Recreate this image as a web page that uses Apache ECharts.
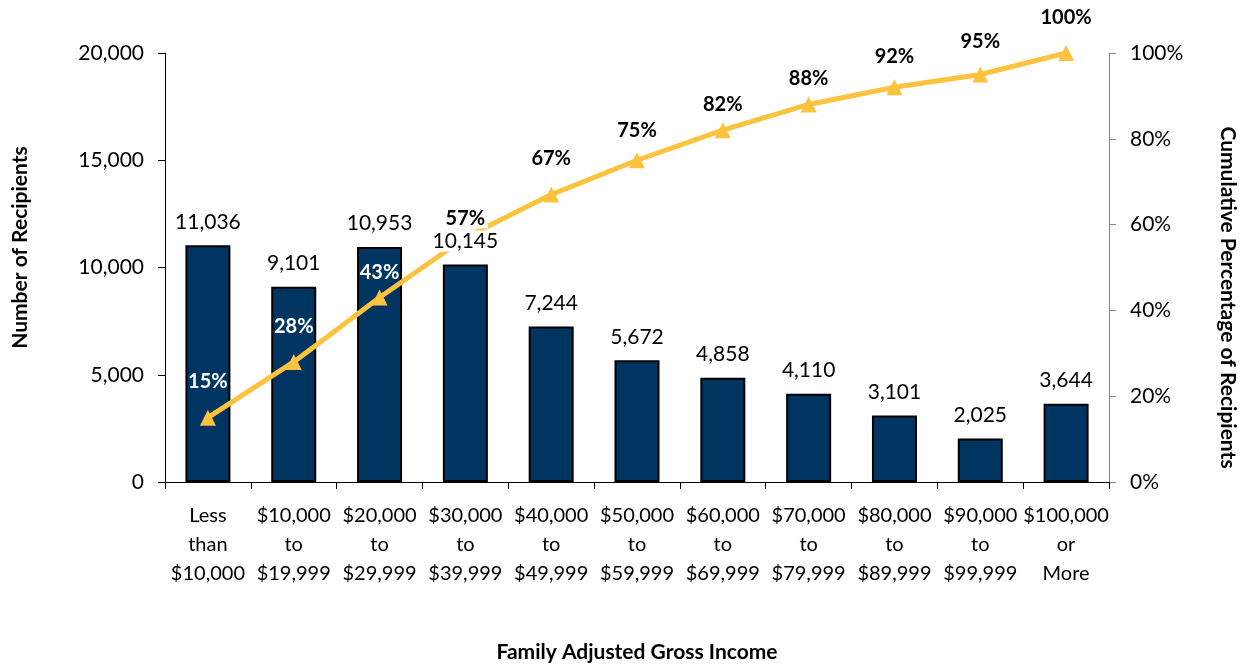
<!DOCTYPE html>
<html lang="en">
<head>
<meta charset="UTF-8">
<title>Recipients by Family AGI</title>
<script src="https://cdn.jsdelivr.net/npm/echarts@6/dist/echarts.min.js"></script>
<style>
  html, body { margin: 0; padding: 0; background: #fff; }
  #main { width: 1248px; height: 668px; }
</style>
</head>
<body>
<div id="main"></div>
<script>
// categories along the x axis
var incomeBands = ['Less than $10,000', '$10,000 to $19,999', '$20,000 to $29,999',
  '$30,000 to $39,999', '$40,000 to $49,999', '$50,000 to $59,999', '$60,000 to $69,999',
  '$70,000 to $79,999', '$80,000 to $89,999', '$90,000 to $99,999', '$100,000 or More'];
// number of recipients per band
var recipients = [11036, 9101, 10953, 10145, 7244, 5672, 4858, 4110, 3101, 2025, 3644];
// cumulative share, in percent
var cumulativePct = [15, 28, 43, 57, 67, 75, 82, 88, 92, 95, 100];
// axis ticks
var leftTicks = { min: 0, max: 20000, step: 5000 };
var rightTicks = { min: 0, max: 100, step: 20 };

// gap between a point and its % label (looks hand placed in the original)
var pctLabelGap = [18, 17, 7, 1, 18, 12, 8, 8, 13, 15, 17];

var navy = '#003562';
var gold = '#FDC23E';
var font = 'Lato, "Noto Sans", sans-serif';

var myChart = echarts.init(document.getElementById('main'));

var option = {
    animation: false,
    textStyle: { fontFamily: font },
    grid: { left: 165, right: 139, top: 53, bottom: 186, containLabel: false },
    xAxis: {
        type: 'category',
        data: incomeBands,
        name: 'Family Adjusted Gross Income',
        nameLocation: 'middle',
        nameGap: 160,
        nameTextStyle: { fontFamily: font, fontWeight: 'bold', fontSize: 21, color: '#000' },
        axisLine: { lineStyle: { color: '#000', width: 1 } },
        axisTick: { show: true, alignWithLabel: false, length: 7, lineStyle: { color: '#000' } },
        axisLabel: {
            interval: 0,
            margin: 19,
            fontSize: 20,
            lineHeight: 29,
            color: '#000',
            formatter: function (v) { return v.split(' ').join('\n'); }
        }
    },
    yAxis: [{
        type: 'value',
        min: leftTicks.min, max: leftTicks.max, interval: leftTicks.step,
        name: 'Number of Recipients',
        nameLocation: 'middle',
        nameRotate: 90,
        nameGap: 134,
        nameTextStyle: { fontFamily: font, fontWeight: 'bold', fontSize: 21, color: '#000', padding: [0, 0, 0, 40] },
        axisLine: { show: true, lineStyle: { color: '#000' } },
        axisTick: { show: true, length: 7, lineStyle: { color: '#000' } },
        splitLine: { show: false },
        axisLabel: {
            margin: 21, fontSize: 21, color: '#000',
            formatter: function (v) { return v.toLocaleString('en-US'); }
        }
    }, {
        type: 'value',
        position: 'right',
        min: rightTicks.min, max: rightTicks.max, interval: rightTicks.step,
        name: 'Cumulative Percentage of Recipients',
        nameLocation: 'middle',
        nameRotate: -90,
        nameGap: 108,
        nameTextStyle: { fontFamily: font, fontWeight: 'bold', fontSize: 21, color: '#000', padding: [0, 0, 0, 60] },
        axisLine: { show: true, lineStyle: { color: '#888' } },
        axisTick: { show: true, length: 7, lineStyle: { color: '#888' } },
        splitLine: { show: false },
        axisLabel: {
            margin: 21, fontSize: 21, color: '#000',
            formatter: function (v) { return v + '%'; }
        }
    }],
    series: [{
        // the bars themselves
        name: 'Recipients',
        type: 'bar',
        data: recipients,
        barWidth: 45,
        z: 2,
        itemStyle: { color: navy, borderColor: '#000', borderWidth: 2 }
    }, {
        // transparent copy carrying the value labels above the gold line
        name: 'Recipients labels',
        type: 'bar',
        data: recipients.map(function (v, i) {
            var lab = { show: true };
            if (i === 3) {
                lab.backgroundColor = '#fff';
                lab.padding = [0, 2, 0, 2];
            }
            return { value: v, label: lab };
        }),
        barWidth: 45,
        barGap: '-100%',
        z: 5,
        silent: true,
        itemStyle: { color: 'rgba(0,0,0,0)' },
        label: {
            show: true,
            position: 'top',
            distance: 13,
            fontSize: 21,
            color: '#000',
            formatter: function (p) { return p.value.toLocaleString('en-US'); }
        }
    }, {
        name: 'Cumulative %',
        type: 'line',
        yAxisIndex: 1,
        z: 3,
        data: cumulativePct.map(function (v, i) {
            var lab = { distance: pctLabelGap[i], color: i < 3 ? '#fff' : '#000' };
            if (i === 3) {
                lab.backgroundColor = '#fff';
                lab.padding = [1, 3, 0, 3];
            }
            return { value: v, label: lab };
        }),
        symbol: 'triangle',
        symbolSize: 16,
        lineStyle: { color: gold, width: 5 },
        itemStyle: { color: gold },
        label: {
            show: true,
            position: 'top',
            fontSize: 20,
            fontWeight: 'bold',
            formatter: function (p) { return p.value + '%'; }
        }
    }]
};

myChart.setOption(option);
</script>
</body>
</html>
